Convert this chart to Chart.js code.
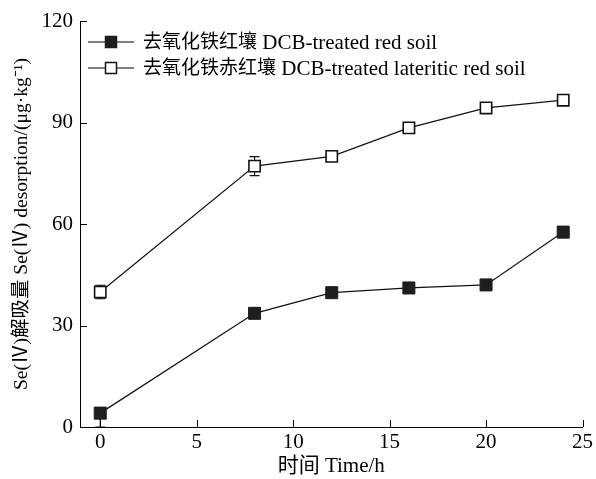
<!DOCTYPE html>
<html>
<head>
<meta charset="utf-8">
<script src="https://cdn.jsdelivr.net/npm/chart.js@4/dist/chart.umd.min.js"></script>
<style>
  html, body { margin: 0; padding: 0; background: #fff; }
  canvas { display: block; }
</style>
</head>
<body>
<canvas id="c" width="596" height="479"></canvas>
<script>
// ---- data ----
const times = [0, 8, 12, 16, 20, 24];
const redSoil = [4.1, 33.6, 39.7, 41.1, 42.0, 57.6];
const redSoilErrUp = [1.2, 1.0, 1.0, 1.6, 1.0, 1.0];
const redSoilErrDown = [4.1, 1.0, 1.0, 1.6, 1.0, 1.0];
const lateriticSoil = [39.9, 77.1, 80.0, 88.4, 94.3, 96.6];
const lateriticErrUp = [2.0, 2.8, 0.8, 1.6, 1.0, 1.2];
const lateriticErrDown = [2.0, 2.8, 0.8, 1.6, 1.0, 1.2];
const seriesLabels = ['去氧化铁红壤 DCB-treated red soil', '去氧化铁赤红壤 DCB-treated lateritic red soil'];
const xTicks = [0, 5, 10, 15, 20, 25];
const yTicks = [0, 30, 60, 90, 120];
const xTitle = '时间 Time/h';
const yTitle = 'Se(Ⅳ)解吸量 Se(Ⅳ) desorption/(μg·kg⁻¹)';

const FONT = '"Liberation Serif", "Noto Sans CJK SC", serif';
const toPts = (ys) => times.map((t, i) => ({ x: t, y: ys[i] }));

const errorBars = {
  id: 'errorBars',
  beforeDatasetsDraw(chart) {
    const { ctx, scales: { x, y } } = chart;
    const ups = [redSoilErrUp, lateriticErrUp];
    const downs = [redSoilErrDown, lateriticErrDown];
    ctx.save();
    ctx.beginPath();
    ctx.rect(chart.chartArea.left, chart.chartArea.top, chart.chartArea.right - chart.chartArea.left, chart.chartArea.bottom - chart.chartArea.top);
    ctx.clip();
    ctx.strokeStyle = '#111';
    ctx.lineWidth = 1.2;
    chart.data.datasets.forEach((ds, di) => {
      ds.data.forEach((p, i) => {
        const px = x.getPixelForValue(p.x);
        const top = y.getPixelForValue(p.y + ups[di][i]);
        const bot = y.getPixelForValue(p.y - downs[di][i]);
        ctx.beginPath();
        ctx.moveTo(px, top); ctx.lineTo(px, bot);
        ctx.moveTo(px - 5, top); ctx.lineTo(px + 5, top);
        ctx.moveTo(px - 5, bot); ctx.lineTo(px + 5, bot);
        ctx.stroke();
      });
    });
    ctx.restore();
  }
};

const inwardTicks = {
  id: 'inwardTicks',
  afterDraw(chart) {
    const { ctx, scales: { x, y }, chartArea } = chart;
    ctx.save();
    ctx.strokeStyle = '#000';
    ctx.lineWidth = 1;
    ctx.beginPath();
    x.ticks.forEach(t => {
      const px = Math.round(x.getPixelForValue(t.value)) + 0.5;
      ctx.moveTo(px, chartArea.bottom);
      ctx.lineTo(px, chartArea.bottom - 7);
    });
    y.ticks.forEach(t => {
      const py = Math.round(y.getPixelForValue(t.value)) + 0.5;
      ctx.moveTo(chartArea.left, py);
      ctx.lineTo(chartArea.left + 7, py);
    });
    ctx.stroke();
    ctx.restore();
  }
};

const innerLegend = {
  id: 'innerLegend',
  afterDraw(chart) {
    const { ctx, chartArea } = chart;
    ctx.save();
    chart.data.datasets.forEach((ds, i) => {
      const yy = chartArea.top + 21 + i * 26;
      const x0 = chartArea.left + 8;
      const x1 = x0 + 46;
      const xm = (x0 + x1) / 2;
      ctx.strokeStyle = '#000';
      ctx.lineWidth = 1.2;
      ctx.beginPath();
      ctx.moveTo(x0, yy); ctx.lineTo(x1, yy);
      ctx.stroke();
      const s = 11;
      ctx.fillStyle = ds.pointBackgroundColor;
      ctx.fillRect(xm - s / 2, yy - s / 2, s, s);
      ctx.lineWidth = 1.5;
      ctx.strokeStyle = ds.pointBorderColor;
      ctx.strokeRect(xm - s / 2, yy - s / 2, s, s);
      ctx.fillStyle = '#000';
      ctx.textBaseline = 'middle';
      ctx.textAlign = 'left';
      const sp = ds.label.indexOf(' ');
      const cjk = ds.label.slice(0, sp);
      const latin = ds.label.slice(sp);
      let tx = x1 + 9;
      ctx.font = '19px ' + FONT;
      ctx.fillText(cjk, tx, yy + 1);
      tx += ctx.measureText(cjk).width;
      ctx.font = '21px ' + FONT;
      ctx.fillText(latin, tx, yy + 1);
    });
    ctx.restore();
  }
};

new Chart(document.getElementById('c'), {
  type: 'line',
  data: {
    datasets: [
      {
        label: seriesLabels[0],
        data: toPts(redSoil),
        borderColor: '#111',
        borderWidth: 1.2,
        pointStyle: 'rect',
        pointRadius: 8.5,
        pointBackgroundColor: '#1e1e1e',
        pointBorderColor: '#1e1e1e',
        pointBorderWidth: 1,
        tension: 0
      },
      {
        label: seriesLabels[1],
        data: toPts(lateriticSoil),
        borderColor: '#111',
        borderWidth: 1.2,
        pointStyle: 'rect',
        pointRadius: 8,
        pointBackgroundColor: '#fff',
        pointBorderColor: '#111',
        pointBorderWidth: 1.6,
        tension: 0
      }
    ]
  },
  options: {
    responsive: false,
    animation: false,
    devicePixelRatio: 1,
    layout: { padding: { top: 21, right: 12, bottom: 0, left: 0 } },
    plugins: { legend: { display: false }, tooltip: { enabled: false } },
    scales: {
      x: {
        type: 'linear',
        min: -1.05,
        max: 25,
        afterBuildTicks: (s) => { s.ticks = xTicks.map(v => ({ value: v })); },
        afterFit: (s) => { s.height = 52; },
        grid: { display: false, drawTicks: false },
        border: { display: true, color: '#000', width: 1 },
        ticks: { color: '#000', font: { family: FONT, size: 21 }, padding: 3, maxRotation: 0 },
        title: { display: true, text: xTitle, color: '#000', font: { family: FONT, size: 21 }, padding: { top: 0, bottom: 0 } }
      },
      y: {
        type: 'linear',
        min: 0,
        max: 120,
        afterBuildTicks: (s) => { s.ticks = yTicks.map(v => ({ value: v })); },
        afterFit: (s) => { s.width = 80; },
        grid: { display: false, drawTicks: false },
        border: { display: true, color: '#000', width: 1 },
        ticks: { color: '#000', font: { family: FONT, size: 21 }, padding: 7 },
        title: { display: true, text: yTitle, color: '#000', font: { family: FONT, size: 19.5 }, padding: { top: 10, bottom: 0 } }
      }
    }
  },
  plugins: [errorBars, inwardTicks, innerLegend]
});
</script>
</body>
</html>
